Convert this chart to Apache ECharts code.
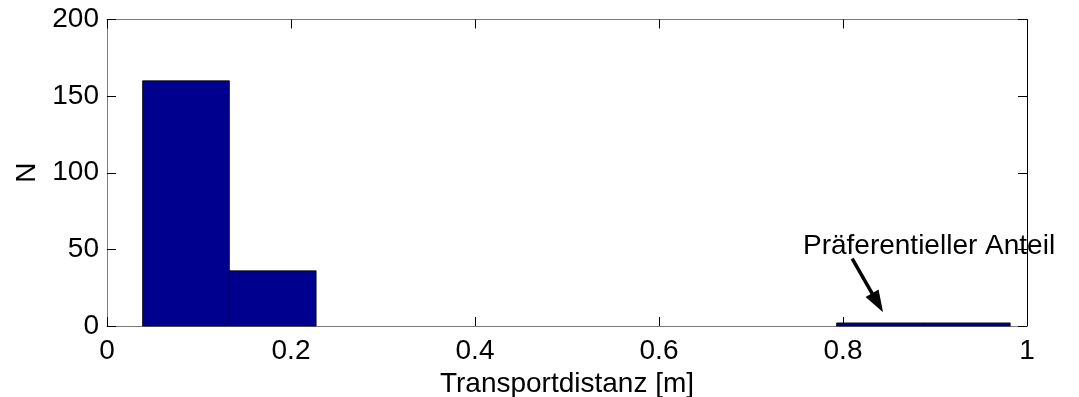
<!DOCTYPE html>
<html>
<head>
<meta charset="utf-8">
<script src="https://cdn.jsdelivr.net/npm/echarts@6/dist/echarts.min.js"></script>
<style>
  html, body { margin: 0; padding: 0; background: #fff; }
  #chart { width: 1079px; height: 397px; }
</style>
</head>
<body>
<div id="chart"></div>
<script>
// Histogram of transport distances: bin edges [m] and counts per bin
const binEdges = [0.0387, 0.1330, 0.2273, 0.3216, 0.4159, 0.5102, 0.6045, 0.6988, 0.7931, 0.8874, 0.9817];
const binCounts = [160, 36, 0, 0, 0, 0, 0, 0, 2, 2];

// Axis ticks
const xTicks = [0, 0.2, 0.4, 0.6, 0.8, 1];
const yTicks = [0, 50, 100, 150, 200];

// Annotation: label anchor and arrow (start -> tip), in data units
const noteText = 'Präferentieller Anteil';
const noteAt = [0.7565, 52];
const arrowFrom = [0.810, 44];
const arrowTo = [0.8435, 8.9];

const bins = binCounts
  .map((n, i) => [binEdges[i], binEdges[i + 1], n])
  .filter(b => b[2] > 0);

const FONT = '"Liberation Sans", Arial, sans-serif';
const axisGray = '#7a7a7a';

const chart = echarts.init(document.getElementById('chart'), null, { renderer: 'canvas' });

function axisBase(lineColor) {
  return {
    type: 'value',
    splitLine: { show: false },
    axisTick: { show: true, inside: true, length: 9, lineStyle: { color: '#000', width: 1 } },
    axisLine: { show: true, onZero: false, lineStyle: { color: lineColor, width: 1 } }
  };
}

chart.setOption({
  animation: false,
  backgroundColor: '#fff',
  grid: { left: 107, right: 52, top: 19.5, bottom: 71, containLabel: false, outerBoundsMode: 'none' },
  xAxis: [
    Object.assign(axisBase(axisGray), {
      min: xTicks[0], max: xTicks[xTicks.length - 1], interval: 0.2,
      position: 'bottom',
      name: 'Transportdistanz [m]',
      nameLocation: 'middle',
      nameGap: 44,
      nameTextStyle: { fontFamily: FONT, fontSize: 28, color: '#000' },
      axisLabel: {
        fontFamily: FONT, fontSize: 28, color: '#000', margin: 11,
        formatter: v => String(Math.round(v * 10) / 10)
      }
    }),
    Object.assign(axisBase(axisGray), {
      min: xTicks[0], max: xTicks[xTicks.length - 1], interval: 0.2,
      position: 'top',
      axisLabel: { show: false }
    })
  ],
  yAxis: [
    Object.assign(axisBase(axisGray), {
      min: yTicks[0], max: yTicks[yTicks.length - 1], interval: 50,
      position: 'left',
      name: 'N',
      nameLocation: 'middle',
      nameGap: 66,
      nameRotate: 90,
      nameTextStyle: { fontFamily: FONT, fontSize: 28, color: '#000' },
      axisLabel: { fontFamily: FONT, fontSize: 28, color: '#000', margin: 8 }
    }),
    Object.assign(axisBase('#000'), {
      min: yTicks[0], max: yTicks[yTicks.length - 1], interval: 50,
      position: 'right',
      axisLabel: { show: false }
    })
  ],
  series: [
    {
      type: 'custom',
      xAxisIndex: 0,
      yAxisIndex: 0,
      data: bins,
      renderItem: function (params, api) {
        const p0 = api.coord([api.value(0), 0]);
        const p1 = api.coord([api.value(1), api.value(2)]);
        return {
          type: 'rect',
          shape: { x: p0[0], y: p1[1], width: p1[0] - p0[0], height: p0[1] - p1[1] },
          style: { fill: '#00008f', stroke: '#000', lineWidth: 0.8 }
        };
      }
    },
    {
      type: 'custom',
      xAxisIndex: 0,
      yAxisIndex: 0,
      data: [[arrowFrom[0], arrowFrom[1], arrowTo[0], arrowTo[1], noteAt[0], noteAt[1]]],
      z: 5,
      renderItem: function (params, api) {
        const a = api.coord([api.value(0), api.value(1)]);
        const b = api.coord([api.value(2), api.value(3)]);
        const t = api.coord([api.value(4), api.value(5)]);
        const dx = b[0] - a[0], dy = b[1] - a[1];
        const len = Math.sqrt(dx * dx + dy * dy);
        const ux = dx / len, uy = dy / len;
        const headLen = 22, headHalf = 7.5;
        const bx = b[0] - ux * headLen, by = b[1] - uy * headLen;
        return {
          type: 'group',
          children: [
            {
              type: 'line',
              shape: { x1: a[0], y1: a[1], x2: bx + ux * 2, y2: by + uy * 2 },
              style: { stroke: '#000', lineWidth: 3.5 }
            },
            {
              type: 'polygon',
              shape: { points: [
                [b[0], b[1]],
                [bx - uy * headHalf, by + ux * headHalf],
                [bx + uy * headHalf, by - ux * headHalf]
              ] },
              style: { fill: '#000' }
            },
            {
              type: 'text',
              x: t[0], y: t[1],
              style: {
                text: noteText,
                font: '28px ' + FONT,
                fill: '#000',
                align: 'left',
                verticalAlign: 'middle'
              }
            }
          ]
        };
      }
    }
  ]
});
</script>
</body>
</html>
